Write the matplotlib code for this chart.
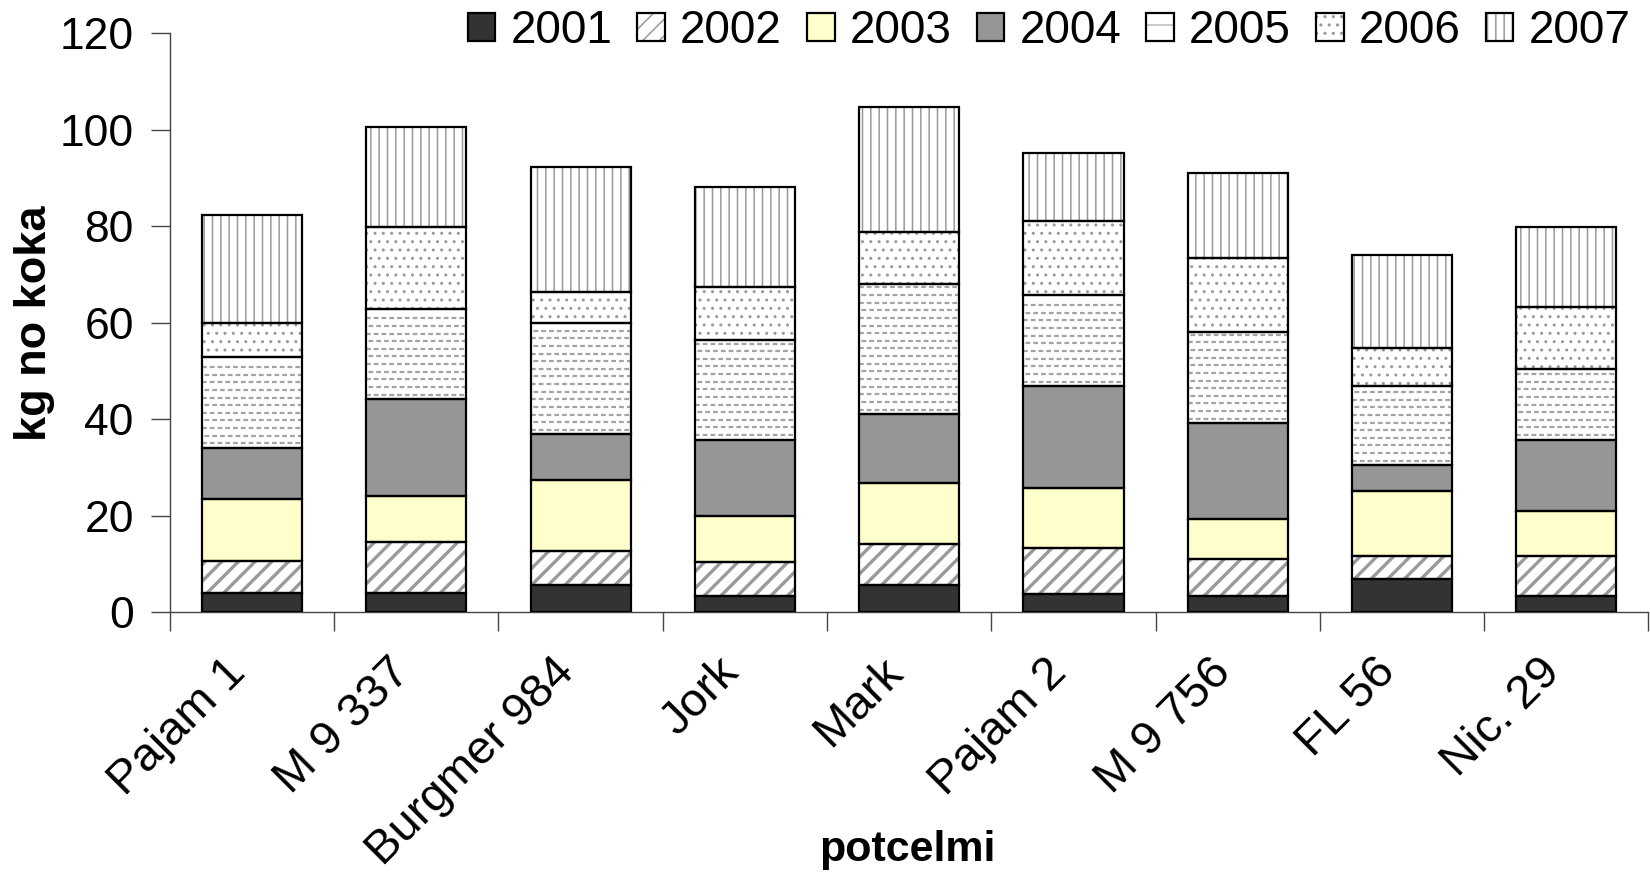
import matplotlib
matplotlib.use('Agg')
import matplotlib.pyplot as plt
from matplotlib.patches import Patch
from matplotlib.legend_handler import HandlerTuple
import numpy as np

# rootstocks (potcelmi) and yearly yield, kg per tree
rootstocks = ['Pajam 1', 'M 9 337', 'Burgmer 984', 'Jork', 'Mark',
              'Pajam 2', 'M 9 756', 'FL 56', 'Nic. 29']
years = ['2001', '2002', '2003', '2004', '2005', '2006', '2007']

y2001 = [4.1, 4.1, 5.7, 3.4, 5.7, 3.9, 3.4, 7.0, 3.4]
y2002 = [6.5, 10.5, 7.1, 7.1, 8.4, 9.5, 7.6, 4.6, 8.2]
y2003 = [12.9, 9.5, 14.6, 9.5, 12.8, 12.4, 8.4, 13.6, 9.4]
y2004 = [10.6, 20.1, 9.5, 15.8, 14.2, 21.1, 19.8, 5.3, 14.8]
y2005 = [18.8, 18.7, 23.0, 20.7, 27.0, 18.8, 18.9, 16.4, 14.6]
y2006 = [7.0, 16.9, 6.5, 11.0, 10.7, 15.3, 15.3, 7.8, 12.9]
y2007 = [22.4, 20.8, 25.9, 20.7, 26.0, 14.2, 17.7, 19.3, 16.5]
series = [y2001, y2002, y2003, y2004, y2005, y2006, y2007]

# facecolor, hatch, hatch linewidth  ('dash' = drawn by hand below)
styles = [
    ('#333333', '', 1.0),
    ('white', '//', 2.4),
    ('#FFFFCC', '', 1.0),
    ('#969696', '', 1.0),
    ('white', 'dash', 1.3),
    ('white', '..', 1.0),
    ('white', '||', 1.1),
]
HATCH_COL = '#999999'

plt.rcParams['font.family'] = ['Liberation Sans', 'DejaVu Sans']
plt.rcParams['font.size'] = 32
plt.rcParams['lines.scale_dashes'] = False

fig = plt.figure(figsize=(16.5, 8.73), dpi=100)
ax = fig.add_axes([0.103, 0.2984, 0.896, 0.6636])

x = np.arange(len(rootstocks))
width = 0.61
bottom = np.zeros(len(rootstocks))
handles = []
for vals, (fc, h, hlw) in zip(series, styles):
    vals = np.array(vals)
    hatch = '' if h == 'dash' else h
    plt.rcParams['hatch.linewidth'] = hlw
    bars = ax.bar(x, vals, width, bottom=bottom, color=fc, hatch=hatch,
                  edgecolor=HATCH_COL, linewidth=0, zorder=2)
    for b in bars:
        if hasattr(b, 'set_hatch_linewidth'):
            b.set_hatch_linewidth(hlw)
    if h == 'dash':
        # dashed rows, staggered, like the Excel "dashed horizontal" fill
        step = 1.58
        for xi, b0, v in zip(x, bottom, vals):
            rows = np.arange(b0 + step * 0.6, b0 + v - step * 0.3, step)
            for k, yr in enumerate(rows):
                ax.hlines(yr, xi - width / 2, xi + width / 2, colors='#a3a3a3',
                          linewidth=1.6, linestyles=[((k % 2) * 3.8, (3.4, 2.2))],
                          zorder=2.5)
    ax.bar(x, vals, width, bottom=bottom, fill=False,
           edgecolor='black', linewidth=1.6, zorder=3)
    bottom += vals
    p1 = Patch(facecolor=fc, hatch=('-' if h == 'dash' else hatch),
               edgecolor=('#bbbbbb' if h == 'dash' else HATCH_COL), linewidth=0)
    if hasattr(p1, 'set_hatch_linewidth'):
        p1.set_hatch_linewidth(hlw)
    p2 = Patch(fill=False, edgecolor='black', linewidth=1.6)
    handles.append((p1, p2))

ax.set_xlim(-0.5, len(rootstocks) - 0.5)
ax.set_ylim(0, 120)
ax.set_yticks(range(0, 121, 20))

# labels sit a bit left of the bar centre (Excel style), so nudge the label ticks
ax.set_xticks(x - 0.175)
ax.set_xticklabels(rootstocks, rotation=45, ha='right', va='top',
                   rotation_mode='anchor', fontsize=34)
ax.set_xticks(np.arange(-0.5, len(rootstocks)), minor=True)
ax.tick_params(axis='x', which='major', length=0, pad=27)
ax.tick_params(axis='x', which='minor', length=14, width=1, direction='out',
               color='#444444')
ax.tick_params(axis='y', length=14, width=1, direction='out',
               color='#444444', pad=12)

for side in ['top', 'right']:
    ax.spines[side].set_visible(False)
for side in ['left', 'bottom']:
    ax.spines[side].set_linewidth(1)
    ax.spines[side].set_color('#444444')

ax.set_ylabel('kg no koka', fontweight='bold', labelpad=3.5, fontsize=32.5)
fig.text(0.55, 0.026, 'potcelmi', fontweight='bold', ha='center', va='center',
         fontsize=31)

fig.legend(handles, years, handler_map={tuple: HandlerTuple(ndivide=1, pad=0)},
           loc='upper right', bbox_to_anchor=(1.002, 1.016), ncol=7,
           frameon=False, handlelength=0.6, handleheight=0.55,
           handletextpad=0.33, columnspacing=0.55, borderpad=0,
           fontsize=33)

fig.savefig('out.png', dpi=100)
